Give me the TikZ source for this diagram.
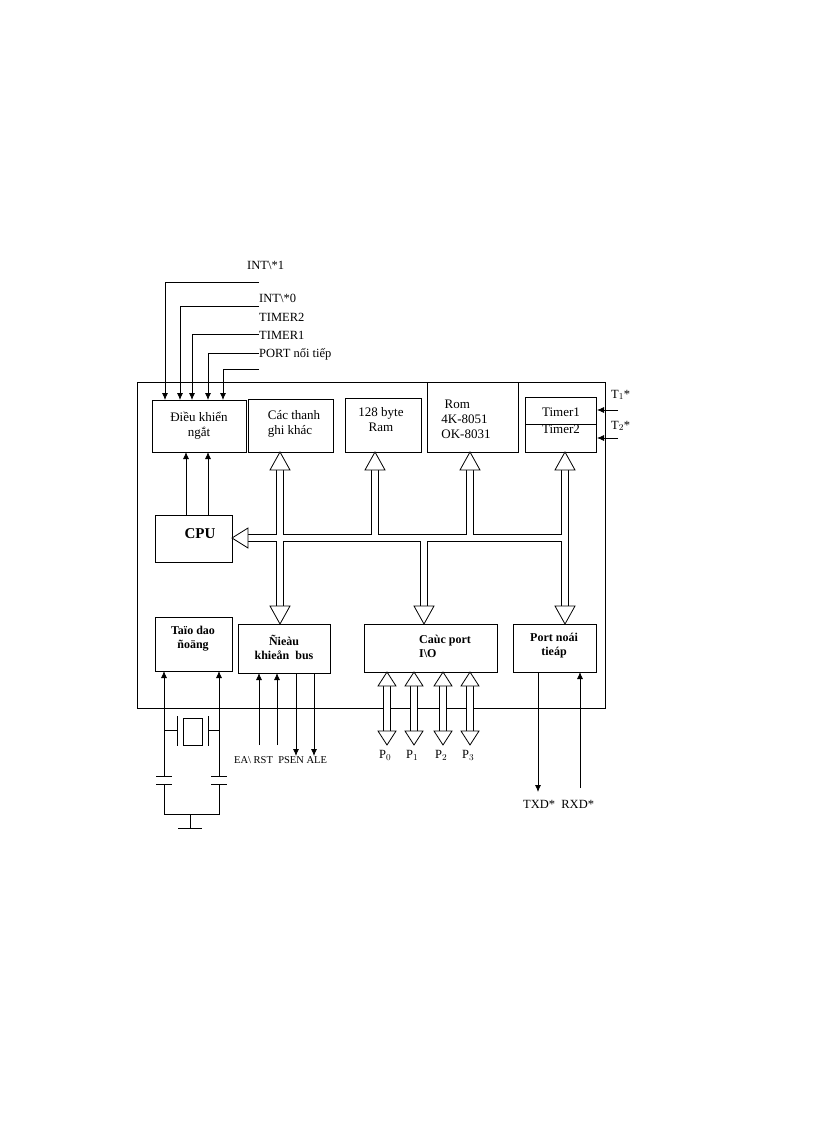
\documentclass[tikz,border=0pt]{standalone}
\usepackage{fontspec}
\setmainfont{Liberation Serif}
\usetikzlibrary{arrows.meta}
\begin{document}
\begin{tikzpicture}[x=1pt,y=-1pt,
  box/.style={draw,line width=0.8pt,inner sep=0pt},
  txt/.style={font=\fontsize{13}{15}\selectfont,align=center,inner sep=0pt},
  btxt/.style={font=\fontsize{12}{14}\selectfont\bfseries,align=center,inner sep=0pt},
  lab/.style={font=\fontsize{12.5}{14}\selectfont,inner sep=0pt,anchor=west},
  sig/.style={line width=0.8pt,-{Latex[length=7pt,width=6pt]}},
  wire/.style={line width=0.8pt},
  busO/.style={line width=8pt,black},
  busI/.style={line width=6pt,white},
  head/.style={draw,fill=white,line width=0.8pt}]
\useasboundingbox (0,0) rectangle (816,1123);
% outer box
\draw[box] (137,382) rectangle (605,708);
% blocks
\node[box,minimum width=94,minimum height=52] (ngat) at (199,426) {};
\node[txt] at (199,426) {Điều khiển\\ngắt};
\node[box,minimum width=85,minimum height=53] (thanh) at (290.5,425.5) {};
\node[txt,align=left] at (294,424) {Các thanh\\ghi khác};
\node[box,minimum width=76,minimum height=54] (ram) at (383,425) {};
\node[txt] at (381,420) {128 byte\\Ram};
\draw[box] (427,382) -- (427,452) -- (518,452) -- (518,382);
\coordinate (rom) at (470,452);
\node[txt,align=left] at (466,419) {\ Rom\\4K-8051\\OK-8031};
\node[box,minimum width=71,minimum height=55] (timer) at (560.5,424.5) {};
\draw[wire] (525,424) -- (596,424);
\node[txt] at (561,412) {Timer1};
\node[txt] at (561,429) {Timer2};
\node[box,minimum width=77,minimum height=47] (cpu) at (193.5,538.5) {};
\node[font=\fontsize{15}{17}\selectfont\bfseries] at (200,534) {CPU};
\node[box,minimum width=77,minimum height=54] (dao) at (193.5,644) {};
\node[btxt] at (193,639) {Taïo dao\\ñoäng};
\node[box,minimum width=92,minimum height=49] (dk) at (284,648.5) {};
\node[btxt] at (284,647) {Ñieàu\\khieån\ \ bus};
\node[box,minimum width=133,minimum height=48] (port) at (430.5,648) {};
\node[btxt,align=left] at (445,646) {Caùc port\\I\textbackslash O};
\node[box,minimum width=83,minimum height=48] (pn) at (554.5,648) {};
\node[btxt] at (554,646) {Port noái\\tieáp};
% interrupt inputs
\foreach \y/\x in {282/165,306/180,334/192,353/208,369/223}
  \draw[sig] (259,\y) -- (\x,\y) -- (\x,400);
\node[lab] at (247,265) {INT\textbackslash*1};
\node[lab] at (259,298) {INT\textbackslash*0};
\node[lab] at (259,317) {TIMER2};
\node[lab] at (259,335) {TIMER1};
\node[lab] at (259,354) {PORT nối tiếp};
% CPU to interrupt
\draw[sig] (186,515) -- (186,452);
\draw[sig] (208,515) -- (208,452);
% T inputs
\draw[sig] (618,410) -- (597,410);
\draw[sig] (618,438) -- (597,438);
\node[lab] at (611,395) {T$_1$*};
\node[lab] at (611,426) {T$_2$*};
% bus
\foreach \s in {busO,busI}{
  \draw[\s] (245,538) -- (565,538);
  \draw[\s] (280,468) -- (280,608);
  \draw[\s] (375,468) -- (375,538);
  \draw[\s] (470,468) -- (470,538);
  \draw[\s] (424,538) -- (424,608);
  \draw[\s] (565,468) -- (565,608);
}
\foreach \x in {280,375,470,565}
  \draw[head] (\x,452) -- (\x+10,470) -- (\x-10,470) -- cycle;
\foreach \x in {280,424,565}
  \draw[head] (\x,624) -- (\x+10,606) -- (\x-10,606) -- cycle;
\draw[head] (232,538) -- (248,528) -- (248,548) -- cycle;
% ports P0..P3
\foreach \x/\i in {387/0,414/1,443/2,470/3}{
  \foreach \s in {busO,busI} \draw[\s] (\x,684) -- (\x,734);
  \draw[head] (\x,672) -- (\x+9,686) -- (\x-9,686) -- cycle;
  \draw[head] (\x,745) -- (\x+9,731) -- (\x-9,731) -- cycle;
  \node[lab] at (\x-8,755) {P$_\i$};
}
% bus control signals
\draw[sig] (259,745) -- (259,673);
\draw[sig] (277,745) -- (277,673);
\draw[sig] (296,673) -- (296,756);
\draw[sig] (314,673) -- (314,756);
\node[lab,font=\fontsize{10.5}{12}\selectfont] at (234,760) {EA\textbackslash\ RST\ \ PSEN ALE};
% serial
\draw[sig] (538,672) -- (538,792);
\draw[sig] (580,788) -- (580,672);
\node[lab] at (523,804) {TXD*\ \ RXD*};
% oscillator
\draw[sig] (164,776) -- (164,671);
\draw[sig] (219,776) -- (219,671);
\draw[wire] (164,730) -- (177,730) (177,716) -- (177,746);
\draw[wire] (219,730) -- (208,730) (208,716) -- (208,746);
\draw[wire] (183,718) rectangle (202,745);
\draw[wire] (156,776) -- (172,776) (156,784) -- (172,784);
\draw[wire] (211,776) -- (227,776) (211,784) -- (227,784);
\draw[wire] (164,784) -- (164,814) -- (219,814) -- (219,784);
\draw[wire] (190,814) -- (190,828) (178,828) -- (202,828);
\end{tikzpicture}
\end{document}
